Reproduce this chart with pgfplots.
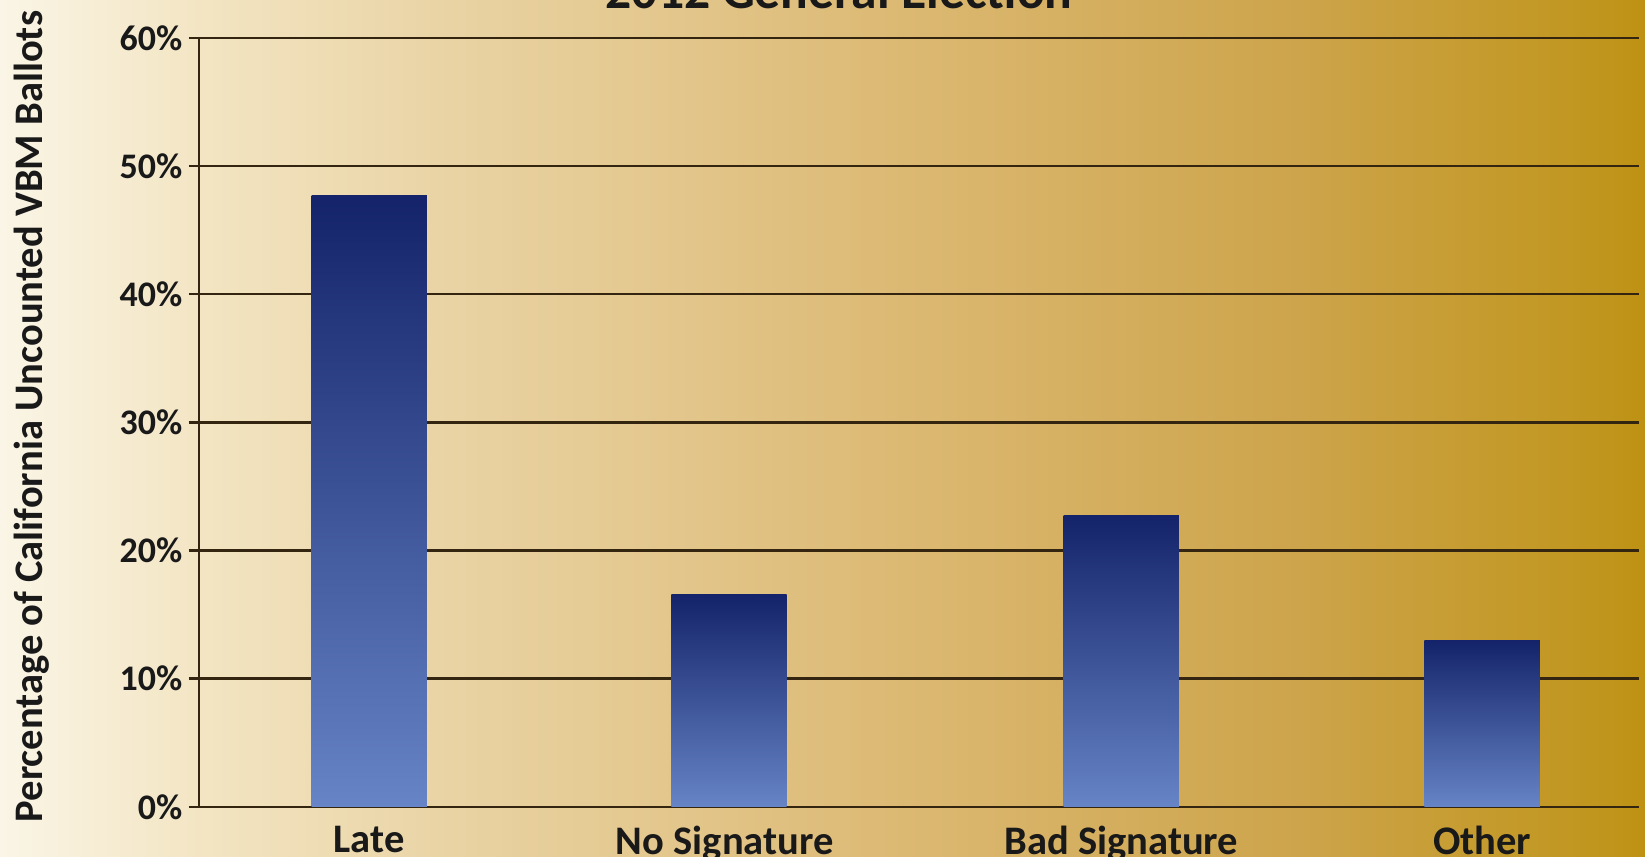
\documentclass[border=0pt]{standalone}
\usepackage{pgfplots}
\pgfplotsset{compat=1.18}
\usepackage{fontspec}
\setmainfont{Carlito}
\definecolor{bg0}{HTML}{FAF5E6}
\definecolor{bg1}{HTML}{F3E5C3}
\definecolor{bg2}{HTML}{E9D3A4}
\definecolor{bg3}{HTML}{DCB973}
\definecolor{bg4}{HTML}{CDA44B}
\definecolor{bg5}{HTML}{C0951C}
\definecolor{bg6}{HTML}{BE9112}
\definecolor{bartop}{HTML}{14236A}
\definecolor{barbot}{HTML}{6684C6}
\definecolor{gridc}{HTML}{33250F}
\pgfdeclarehorizontalshading{bgshade}{100bp}{color(0bp)=(bg0); color(25bp)=(bg0); color(31.1bp)=(bg1); color(38.7bp)=(bg2); color(52.4bp)=(bg3); color(64.5bp)=(bg4); color(73.9bp)=(bg5); color(75bp)=(bg6); color(100bp)=(bg6)}
\begin{document}
\begin{tikzpicture}[x=0.02cm,y=0.02cm]
\shade[shading=bgshade] (0,0) rectangle (1568,816);
\begin{axis}[
  at={(3.8cm,0.94cm)}, anchor=origin,
  scale only axis, width=27.46cm, height=14.66cm,
  xmin=190, xmax=1563, ymin=0, ymax=60,
  axis x line=bottom, axis y line=left,
  axis line style={-, draw=gridc, line width=1.3pt},
  ytick={0,10,...,60},
  yticklabel={\pgfmathprintnumber{\tick}\%},
  yticklabel style={font=\fontsize{19.5}{21}\selectfont\bfseries, text=black!90},
  ymajorgrids, grid style={draw=gridc, line width=1.3pt},
  tick align=outside, major tick length=0.2cm,
  ytick style={draw=gridc, line width=1.3pt},
  xtick={352,691,1069,1413},
  xticklabels={Late,No Signature,Bad Signature,Other},
  xtick style={draw=none},
  xticklabel style={font=\fontsize{22}{24}\selectfont\bfseries, text=black!90, yshift=-0.04cm},
  /pgf/number format/assume math mode=true,
  ylabel={Percentage of California Uncounted VBM Ballots},
  every axis y label/.style={at={(axis description cs:-0.1165,0.5075)}, rotate=90, anchor=center, font=\fontsize{22}{24}\selectfont\bfseries, text=black!90},
  title={2012 General Election},
  title style={font=\fontsize{28}{30}\selectfont\bfseries, text=black!90, at={(axis description cs:0.4443,1.0245)}, anchor=base},
  ybar, bar width=2.2cm, bar shift=0pt,
  clip=false,
]
\addplot[ybar, bar shift=0pt, draw=none, top color=bartop, bottom color=barbot] coordinates {(352,47.7)};
\addplot[ybar, bar shift=0pt, draw=none, top color=bartop, bottom color=barbot] coordinates {(695,16.6)};
\addplot[ybar, bar shift=0pt, draw=none, top color=bartop, bottom color=barbot] coordinates {(1069,22.75)};
\addplot[ybar, bar shift=0pt, draw=none, top color=bartop, bottom color=barbot] coordinates {(1413,13.0)};
\end{axis}
\pgfresetboundingbox
\useasboundingbox (0,0) rectangle (1568,816);
\end{tikzpicture}
\end{document}
